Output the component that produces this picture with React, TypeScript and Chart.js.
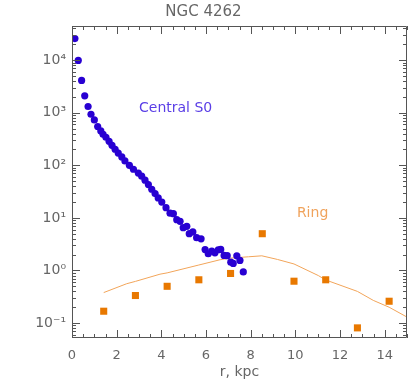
import React, { useEffect, useRef } from 'react';
import { Chart, registerables } from 'chart.js';
Chart.register(...registerables);

const centralR = [0.13, 0.28, 0.43, 0.57, 0.72, 0.85, 1.0, 1.15, 1.29, 1.39, 1.52, 1.66, 1.79, 1.93, 2.07, 2.23, 2.37, 2.57, 2.75, 2.97, 3.12, 3.27, 3.42, 3.57, 3.72, 3.86, 4.02, 4.21, 4.39, 4.54, 4.69, 4.84, 4.98, 5.14, 5.25, 5.41, 5.58, 5.78, 5.96, 6.1, 6.26, 6.4, 6.55, 6.66, 6.81, 6.95, 7.11, 7.22, 7.38, 7.52, 7.67];
const centralI = [25700, 9860, 4100, 2090, 1310, 935, 730, 546, 450, 389, 341, 286, 240, 202, 171, 144, 121, 100, 84, 71, 62, 52, 43, 35, 29, 24, 20, 15.6, 12.3, 12.0, 9.25, 8.6, 6.5, 6.9, 5.0, 5.4, 4.2, 4.0, 2.5, 2.08, 2.33, 2.17, 2.48, 2.51, 1.93, 1.91, 1.44, 1.36, 1.9, 1.55, 0.94];

const ringR = [1.42, 2.84, 4.26, 5.68, 7.1, 8.52, 9.94, 11.36, 12.78, 14.2];
const ringI = [0.168, 0.334, 0.5, 0.665, 0.877, 5.0, 0.625, 0.665, 0.081, 0.26];

const modelR = [1.42, 2.45, 2.84, 3.94, 4.26, 5.68, 6.63, 7.1, 7.9, 8.5, 9.2, 9.94, 11.03, 11.36, 12.78, 13.49, 14.2, 15.0];
const modelI = [0.38, 0.56, 0.62, 0.85, 0.9, 1.27, 1.6, 1.72, 1.82, 1.9, 1.62, 1.33, 0.8, 0.66, 0.4, 0.27, 0.2, 0.13];

const yTickValues = [0.1, 1, 10, 100, 1000, 10000];
const yTickLabels = ['10\u207B\u00B9', '10\u2070', '10\u00B9', '10\u00B2', '10\u00B3', '10\u2074'];
const xTickValues = [0, 2, 4, 6, 8, 10, 12, 14];

const titleText = 'NGC 4262';
const xTitle = 'r, kpc';
const centralLabel = 'Central S0';
const ringLabel = 'Ring';

const FONT = "'DejaVu Sans', sans-serif";
const AXIS_COLOR = '#555';
const TEXT_COLOR = '#666';

const framePlugin = {
  id: 'frameTicks',
  afterDraw(chart: any) {
    const { ctx, chartArea } = chart;
    const xs = chart.scales.x;
    const ys = chart.scales.y;
    const { left, right, top, bottom } = chartArea;
    ctx.save();
    ctx.strokeStyle = AXIS_COLOR;
    ctx.lineWidth = 1;
    ctx.beginPath();
    ctx.rect(left + 0.5, top + 0.5, right - left - 1, bottom - top - 1);
    ctx.stroke();
    ctx.beginPath();
    for (let v = 0; v <= 15.001; v += 0.5) {
      const px = Math.round(xs.getPixelForValue(v)) + 0.5;
      const major = Math.abs(v / 2 - Math.round(v / 2)) < 1e-6;
      const len = major ? 8 : 4;
      ctx.moveTo(px, bottom);
      ctx.lineTo(px, bottom - len);
      ctx.moveTo(px, top);
      ctx.lineTo(px, top + len);
    }
    for (let e = -2; e <= 5; e++) {
      for (let m = 1; m <= 9; m++) {
        const v = m * Math.pow(10, e);
        if (v < ys.min || v > ys.max) continue;
        const py = Math.round(ys.getPixelForValue(v)) + 0.5;
        const len = m === 1 ? 8 : 4;
        ctx.moveTo(left, py);
        ctx.lineTo(left + len, py);
        ctx.moveTo(right, py);
        ctx.lineTo(right - len, py);
      }
    }
    ctx.stroke();
    ctx.font = `14px ${FONT}`;
    ctx.textBaseline = 'middle';
    ctx.textAlign = 'left';
    ctx.fillStyle = '#5a3ee6';
    ctx.fillText(centralLabel, xs.getPixelForValue(3.0), ys.getPixelForValue(1220));
    ctx.fillStyle = '#f0a35c';
    ctx.fillText(ringLabel, xs.getPixelForValue(10.07), ys.getPixelForValue(12.2));
    ctx.restore();
  },
};

export default function App() {
  const ref = useRef<HTMLCanvasElement | null>(null);
  useEffect(() => {
    document.body.style.margin = '0';
    const canvas = ref.current;
    if (!canvas) return;
    const chart = new Chart(canvas, {
      type: 'scatter',
      data: {
        datasets: [
          {
            label: centralLabel,
            data: centralR.map((r, i) => ({ x: r, y: centralI[i] })),
            backgroundColor: '#2800d2',
            borderWidth: 0,
            pointRadius: 3.6,
            pointStyle: 'circle',
          },
          {
            label: ringLabel,
            data: ringR.map((r, i) => ({ x: r, y: ringI[i] })),
            backgroundColor: '#e87800',
            borderWidth: 0,
            pointRadius: 5,
            pointStyle: 'rect',
          },
          {
            label: 'model',
            type: 'line',
            data: modelR.map((r, i) => ({ x: r, y: modelI[i] })),
            borderColor: '#f2a55a',
            borderWidth: 1,
            pointRadius: 0,
            showLine: true,
            fill: false,
            tension: 0,
          } as any,
        ],
      },
      options: {
        responsive: false,
        animation: false,
        devicePixelRatio: 1,
        layout: { padding: { top: 0, right: 8, bottom: 0, left: 0 } },
        plugins: {
          legend: { display: false },
          tooltip: { enabled: false },
          title: {
            display: true,
            text: titleText,
            color: TEXT_COLOR,
            font: { family: FONT, size: 15, weight: 'normal' },
            padding: { top: 3, bottom: 5 },
          },
        },
        scales: {
          x: {
            type: 'linear',
            min: 0,
            max: 15,
            grid: { display: false, drawTicks: false },
            border: { display: false },
            afterBuildTicks: (s: any) => {
              s.ticks = xTickValues.map((v) => ({ value: v }));
            },
            afterFit: (s: any) => {
              s.height = 50;
            },
            ticks: {
              color: TEXT_COLOR,
              font: { family: FONT, size: 13 },
              padding: 10,
              maxRotation: 0,
              autoSkip: false,
            },
            title: {
              display: true,
              text: xTitle,
              color: TEXT_COLOR,
              font: { family: FONT, size: 14 },
              padding: { top: 0, bottom: 7 },
            },
          },
          y: {
            type: 'logarithmic',
            min: 0.052,
            max: 44500,
            grid: { display: false, drawTicks: false },
            border: { display: false },
            afterBuildTicks: (s: any) => {
              s.ticks = yTickValues.map((v) => ({ value: v }));
            },
            afterFit: (s: any) => {
              s.width = 72;
            },
            ticks: {
              color: TEXT_COLOR,
              font: { family: FONT, size: 14 },
              padding: 6,
              autoSkip: false,
              callback: (v: any) => {
                const i = yTickValues.findIndex((t) => Math.abs(t - v) / t < 1e-6);
                return i >= 0 ? yTickLabels[i] : '';
              },
            },
          },
        },
      },
      plugins: [framePlugin],
    });
    return () => chart.destroy();
  }, []);
  return (
    <div style={{ width: 415, height: 388 }}>
      <canvas ref={ref} width={415} height={388} style={{ display: 'block' }} />
    </div>
  );
}
